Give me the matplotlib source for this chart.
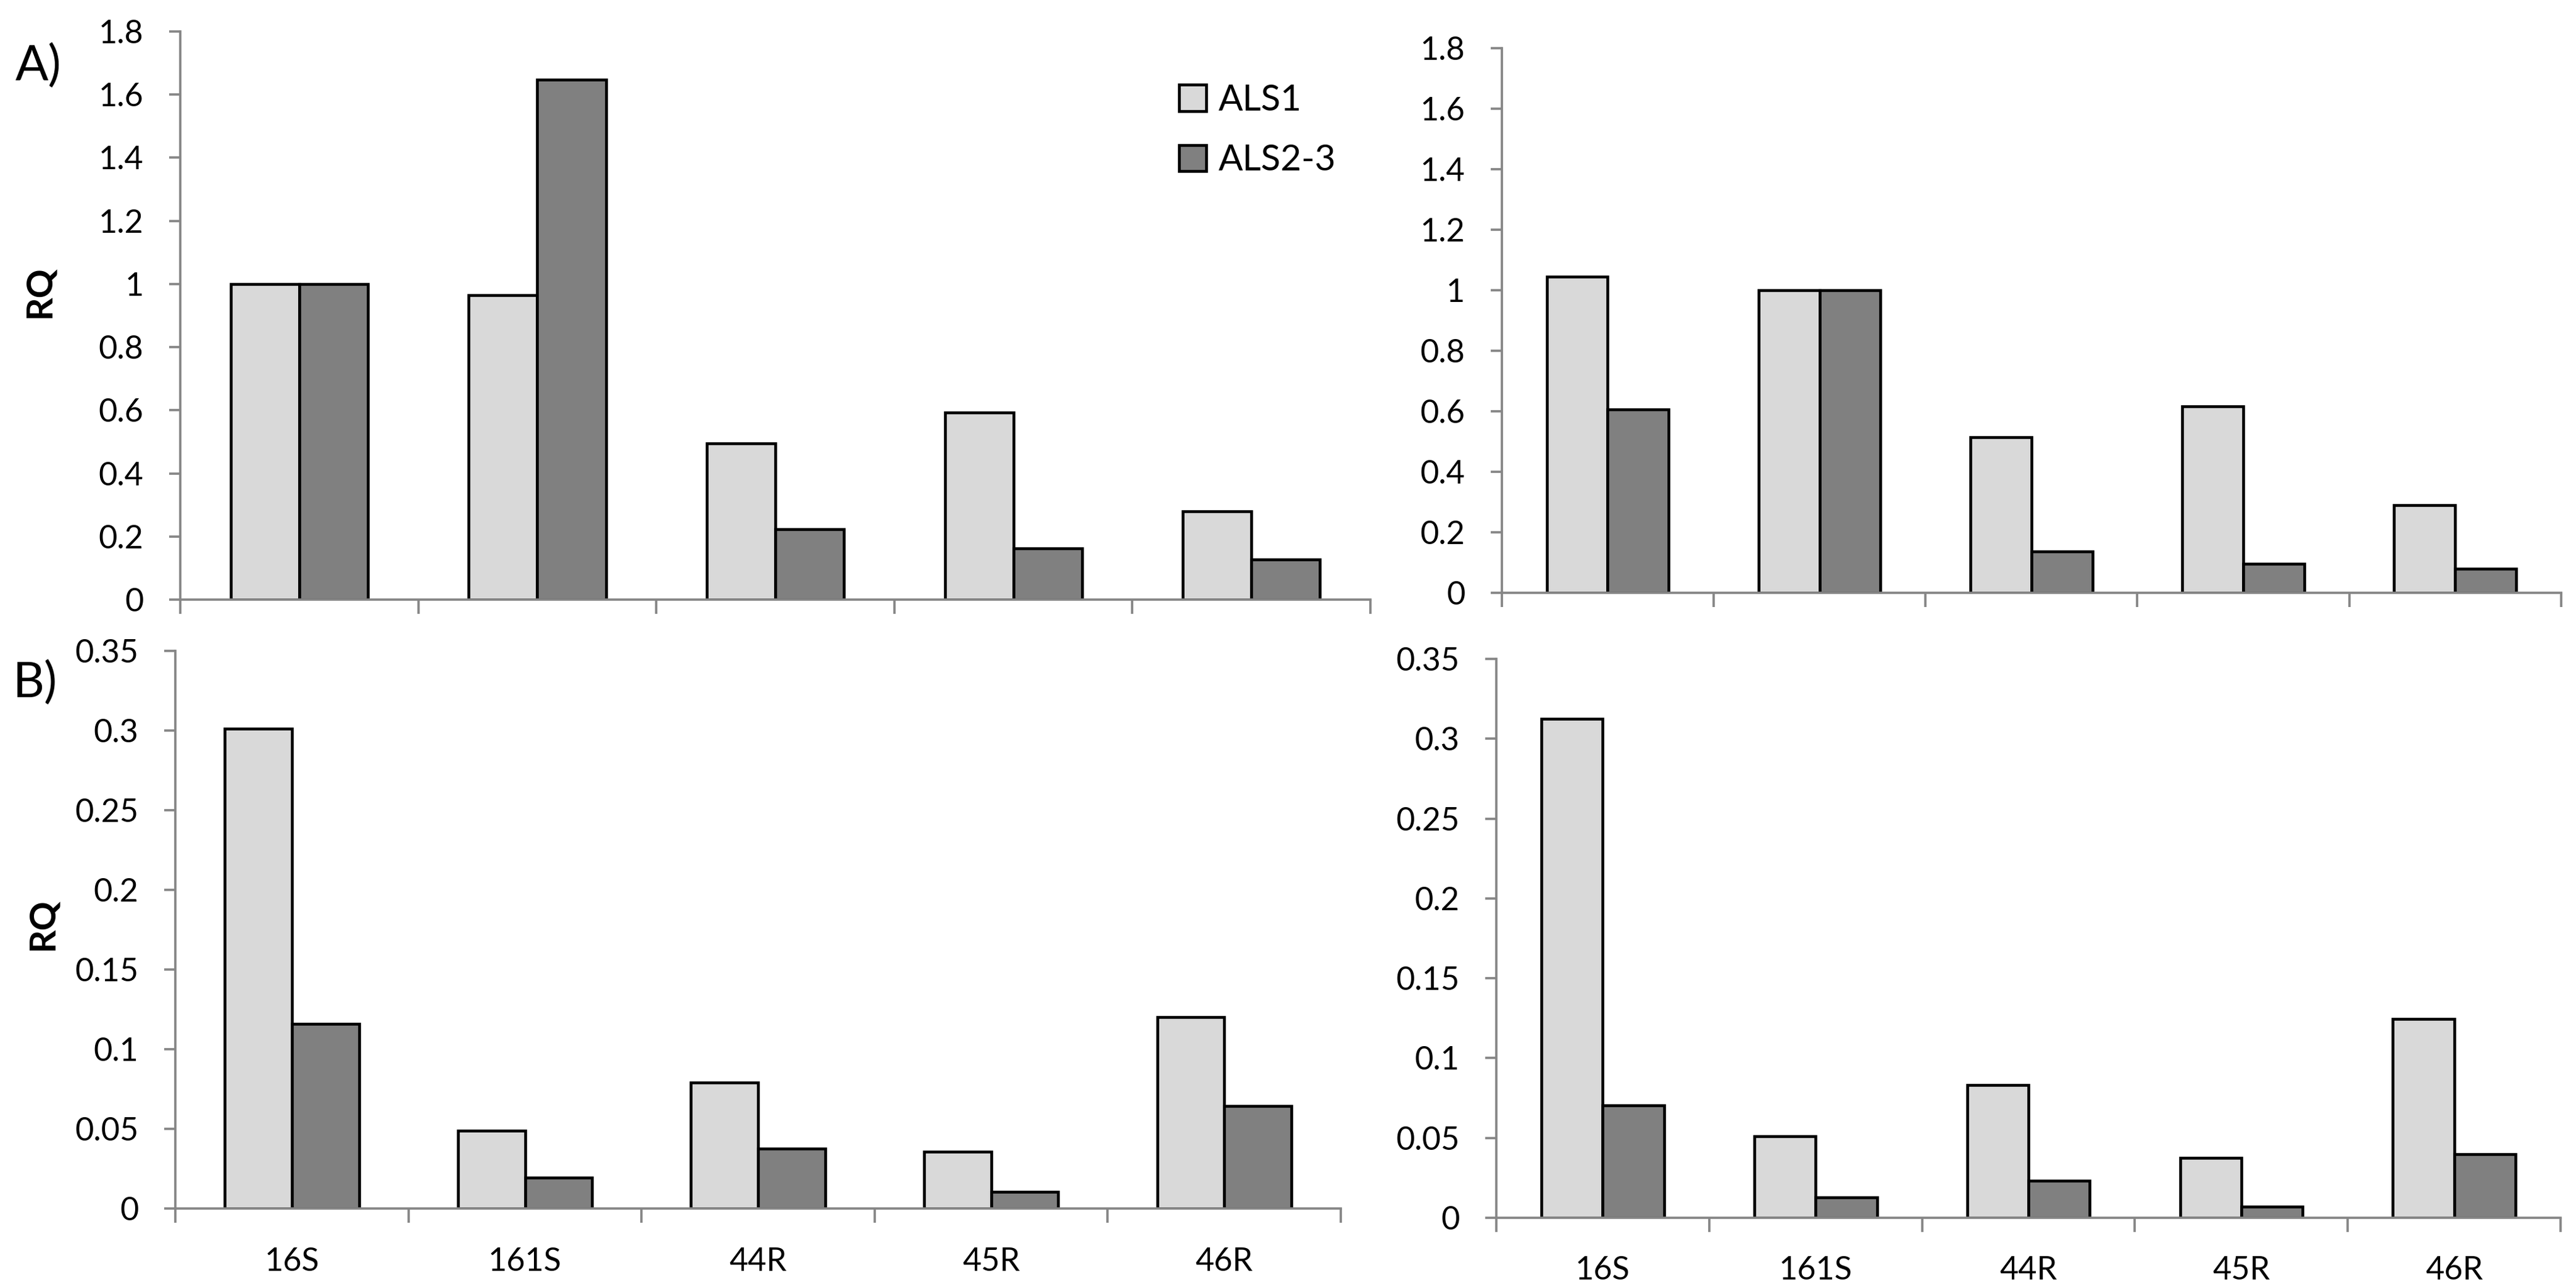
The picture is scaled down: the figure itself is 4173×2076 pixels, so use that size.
import matplotlib.pyplot as plt
from matplotlib.ticker import FixedLocator, FuncFormatter
import numpy as np

# Categories along the x axis and the two patient groups.
categories = ['16S', '161S', '44R', '45R', '46R']
series_names = ['ALS1', 'ALS2-3']

# Panel A, left and right (RQ values).
a_left_als1 = [1.0, 0.965, 0.495, 0.592, 0.279]
a_left_als23 = [1.0, 1.648, 0.222, 0.162, 0.127]
a_right_als1 = [1.045, 1.0, 0.514, 0.616, 0.290]
a_right_als23 = [0.606, 1.0, 0.136, 0.096, 0.080]

# Panel B, left and right.
b_left_als1 = [0.301, 0.049, 0.079, 0.0355, 0.120]
b_left_als23 = [0.116, 0.0195, 0.0375, 0.0105, 0.0645]
b_right_als1 = [0.3125, 0.051, 0.083, 0.0375, 0.1245]
b_right_als23 = [0.0705, 0.0127, 0.0232, 0.007, 0.0397]

a_yticks = [0, 0.2, 0.4, 0.6, 0.8, 1.0, 1.2, 1.4, 1.6, 1.8]
b_yticks = [0, 0.05, 0.1, 0.15, 0.2, 0.25, 0.3, 0.35]

# Pretty plot configuration.
plt.rcParams['font.family'] = ['Lato', 'DejaVu Sans']
plt.rc('font', size=12.5)
plt.rc('xtick', labelsize=12.5)
plt.rc('ytick', labelsize=12.5)

AXIS_GREY = '#868686'
LIGHT = '#d9d9d9'
DARK = '#808080'
BAR_W = 0.288


def draw_panel(ax, als1, als23, yticks, show_labels):
    """Draw one grouped bar panel in the Excel-like style of the reference."""
    x = np.arange(len(categories))
    ax.bar(x - BAR_W / 2, als1, BAR_W, color=LIGHT, edgecolor='black', linewidth=1.1, label=series_names[0])
    ax.bar(x + BAR_W / 2, als23, BAR_W, color=DARK, edgecolor='black', linewidth=1.1, label=series_names[1])

    ax.set_xlim(-0.5, len(categories) - 0.5)
    ax.set_ylim(yticks[0], yticks[-1])
    for side in ['top', 'right']:
        ax.spines[side].set_visible(False)
    for side in ['left', 'bottom']:
        ax.spines[side].set_color(AXIS_GREY)
        ax.spines[side].set_linewidth(0.9)

    ax.yaxis.set_major_locator(FixedLocator(yticks))
    ax.yaxis.set_major_formatter(FuncFormatter(lambda v, p: f'{round(v, 2):g}'))
    ax.tick_params(axis='y', direction='out', length=4.3, width=0.9, color=AXIS_GREY, pad=10)

    # Category boundaries carry the tick marks, the names sit in between.
    ax.xaxis.set_major_locator(FixedLocator(np.arange(len(categories) + 1) - 0.5))
    ax.xaxis.set_major_formatter(FuncFormatter(lambda v, p: ''))
    ax.tick_params(axis='x', which='major', direction='out', length=5.5, width=0.9, color=AXIS_GREY)
    ax.xaxis.set_minor_locator(FixedLocator(x))
    if show_labels:
        ax.set_xticks(x, categories, minor=True)
    else:
        ax.xaxis.set_minor_formatter(FuncFormatter(lambda v, p: ''))
    ax.tick_params(axis='x', which='minor', length=0, pad=15)


fig = plt.figure(figsize=(4173 / 300, 2076 / 300), dpi=300)
ax_tl = fig.add_axes([0.0700, 0.5323, 0.4620, 0.4431])
ax_tr = fig.add_axes([0.5830, 0.5376, 0.4112, 0.4248])
ax_bl = fig.add_axes([0.0681, 0.0573, 0.4524, 0.4350])
ax_br = fig.add_axes([0.5809, 0.0501, 0.4131, 0.4359])

draw_panel(ax_tl, a_left_als1, a_left_als23, a_yticks, False)
draw_panel(ax_tr, a_right_als1, a_right_als23, a_yticks, False)
draw_panel(ax_bl, b_left_als1, b_left_als23, b_yticks, True)
draw_panel(ax_br, b_right_als1, b_right_als23, b_yticks, True)

fig.text(0.006, 0.948, 'A)', fontsize=19, ha='left', va='center')
fig.text(0.005, 0.467, 'B)', fontsize=19, ha='left', va='center')
fig.text(0.0155, 0.7726, 'RQ', fontsize=14, fontweight='bold', rotation=90, ha='center', va='center')
fig.text(0.0165, 0.2790, 'RQ', fontsize=14, fontweight='bold', rotation=90, ha='center', va='center')

ax_tl.legend(loc='upper left', bbox_to_anchor=(0.4577, 0.9345), bbox_transform=fig.transFigure,
             frameon=False, fontsize=14, handlelength=0.75, handleheight=0.75, handletextpad=0.35,
             labelspacing=0.76, borderpad=0, borderaxespad=0)

plt.savefig('out.png', dpi=300)
